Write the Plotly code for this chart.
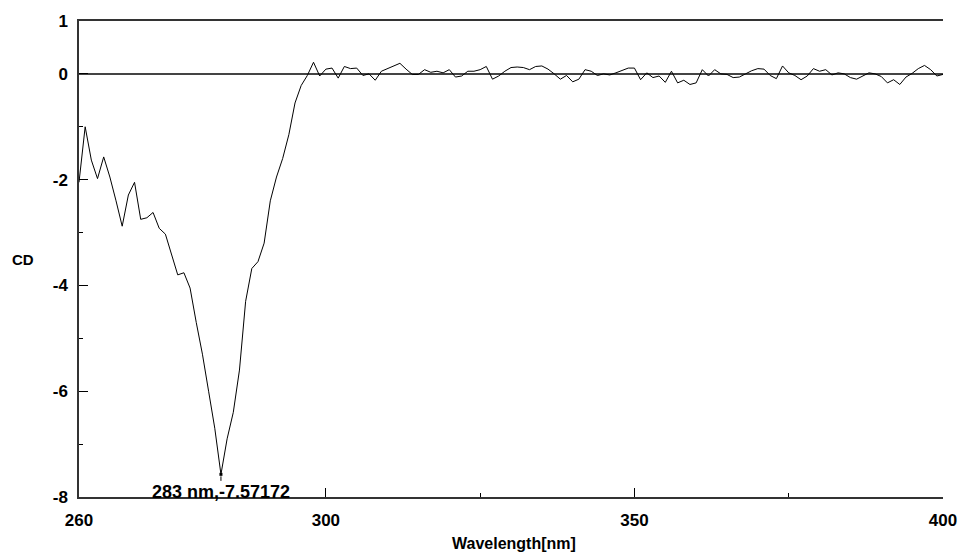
import numpy as np
import plotly.graph_objects as go

# ---- data ----
wavelength = list(range(260, 401))
cd = [
    -2.05, -1.00, -1.63, -1.98, -1.57, -1.95, -2.40, -2.88, -2.29, -2.05,   # 260-269
    -2.75, -2.72, -2.62, -2.92, -3.03, -3.42, -3.80, -3.76, -4.05, -4.70,   # 270-279
    -5.30, -6.00, -6.70, -7.57172, -6.90, -6.40, -5.60, -4.30, -3.68, -3.55, # 280-289
    -3.20, -2.40, -1.95, -1.60, -1.15, -0.55, -0.22, -0.03, 0.22, -0.04,    # 290-299
    0.09, 0.11, -0.08, 0.14, 0.10, 0.11, -0.03, 0.00, -0.12, 0.05,          # 300-309
    0.10, 0.15, 0.20, 0.09, -0.01, -0.01, 0.08, 0.03, 0.05, 0.02,           # 310-319
    0.08, -0.06, -0.04, 0.05, 0.05, 0.08, 0.14, -0.10, -0.04, 0.05,         # 320-329
    0.12, 0.13, 0.12, 0.08, 0.14, 0.15, 0.09, 0.00, -0.10, -0.03,           # 330-339
    -0.15, -0.10, 0.08, 0.05, -0.03, 0.00, -0.02, 0.02, 0.06, 0.11,         # 340-349
    0.11, -0.11, 0.02, -0.07, -0.04, -0.16, 0.05, -0.17, -0.12, -0.20,      # 350-359
    -0.17, 0.08, -0.04, 0.08, 0.00, -0.01, -0.07, -0.06, 0.00, 0.06,        # 360-369
    0.10, 0.09, -0.03, -0.09, 0.15, 0.02, -0.03, -0.11, -0.04, 0.10,        # 370-379
    0.05, 0.08, -0.02, 0.02, 0.00, -0.07, -0.10, -0.04, 0.02, 0.00,         # 380-389
    -0.05, -0.17, -0.11, -0.20, -0.06, 0.01, 0.10, 0.16, 0.08, -0.04,       # 390-399
    -0.01,                                                                   # 400
]
x_tick_vals = [260, 300, 350, 400]
x_minor_vals = [325, 375]
y_tick_vals = [1, 0, -2, -4, -6, -8]
y_minor_vals = [-1, -3, -5, -7]

peak_i = int(np.argmin(cd))
peak_x = wavelength[peak_i]
peak_y = cd[peak_i]

FONT = "Arial, Liberation Sans, sans-serif"

fig = go.Figure()
fig.add_trace(go.Scatter(x=wavelength, y=cd, mode="lines",
                         line=dict(color="black", width=1), showlegend=False,
                         hoverinfo="skip"))
fig.add_trace(go.Scatter(x=[peak_x], y=[peak_y], mode="markers",
                         marker=dict(symbol="square", size=3, color="black"),
                         showlegend=False, hoverinfo="skip"))

fig.add_annotation(x=peak_x, y=peak_y, xref="x", yref="y",
                   text="<b>%d nm,%.5f</b>" % (peak_x, peak_y),
                   showarrow=True, arrowhead=0, arrowwidth=1, arrowcolor="black",
                   ax=0, ay=18, standoff=2,
                   font=dict(family=FONT, size=18, color="black"))

fig.add_annotation(text="<b>CD</b>", xref="paper", yref="paper",
                   x=(23 - 79) / 866, y=(497 - 257) / 482, xanchor="center",
                   yanchor="middle", showarrow=False,
                   font=dict(family=FONT, size=15, color="black"))
fig.add_annotation(text="<b>Wavelength[nm]</b>", xref="paper", yref="paper",
                   x=(515 - 79) / 866, y=-(544 - 497) / 482, xanchor="center",
                   yanchor="middle", showarrow=False,
                   font=dict(family=FONT, size=16, color="black"))

fig.update_layout(
    width=969, height=556,
    margin=dict(l=79, r=24, t=15, b=59),
    paper_bgcolor="white", plot_bgcolor="white",
    font=dict(family=FONT, color="black"),
    xaxis=dict(range=[260, 400], tickmode="array", tickvals=x_tick_vals,
               ticktext=["<b>%d</b>" % v for v in x_tick_vals],
               ticks="inside", ticklen=9, tickwidth=1, tickcolor="black",
               ticklabelstandoff=7,
               showline=True, linecolor="#333", linewidth=1.5, mirror=True,
               showgrid=False, zeroline=False,
               tickfont=dict(family=FONT, size=17, color="black"),
               minor=dict(tickmode="array", tickvals=x_minor_vals, ticks="inside",
                          ticklen=4, tickcolor="black", showgrid=False)),
    yaxis=dict(range=[-8, 1], tickmode="array", tickvals=y_tick_vals,
               ticktext=["<b>%d</b>" % v for v in y_tick_vals],
               ticks="inside", ticklen=9, tickwidth=1, tickcolor="black",
               ticklabelstandoff=6,
               showline=True, linecolor="#333", linewidth=1.5, mirror=False,
               showgrid=False, zeroline=True, zerolinecolor="#444", zerolinewidth=1.5,
               tickfont=dict(family=FONT, size=17, color="black"),
               minor=dict(tickmode="array", tickvals=y_minor_vals, ticks="inside",
                          ticklen=4, tickcolor="black", showgrid=False)),
)

fig.write_html("out.html")
